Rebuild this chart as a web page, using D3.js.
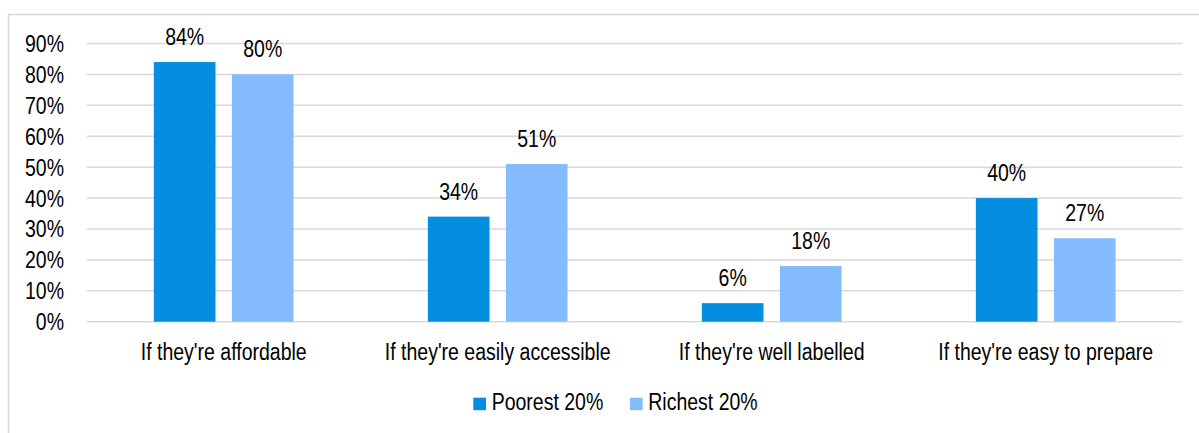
<!DOCTYPE html>
<html><head><meta charset="utf-8">
<script src="https://cdn.jsdelivr.net/npm/d3@7"></script>
<style>body{margin:0;background:#fff}svg{display:block}text{font-family:"Liberation Sans",Arial,sans-serif;fill:#000}</style>
</head><body><svg id="c" width="1199" height="433"></svg>
<script>
const categories = ["If they're affordable","If they're easily accessible","If they're well labelled","If they're easy to prepare"];
const seriesNames = ["Poorest 20%","Richest 20%"];
const poorest = [84,34,6,40];
const richest = [80,51,18,27];
const yTicks = [0,10,20,30,40,50,60,70,80,90];
const colors = ["#038ee2","#84bbfd"];

const svg = d3.select("#c");
const FS = 19.5, SY = 1.23;
function txt(g, x, y, s, anchor){
  return g.append("text").attr("transform",`translate(${x},${y}) scale(1,${SY})`)
    .attr("text-anchor",anchor||"middle").attr("font-size",FS).text(s);
}

svg.append("rect").attr("x",8.5).attr("y",14.5).attr("width",1250).attr("height",500)
  .attr("fill","none").attr("stroke","#d9d9d9").attr("stroke-width",1.5);

const x0 = d3.scaleBand().domain(categories).range([86.7,1182.7]).paddingInner(0).paddingOuter(0);
const y = d3.scaleLinear().domain([0,90]).range([321.7,43.5]);
const x1 = d3.scaleBand().domain(seriesNames).range([0,139.7]).paddingInner(0.21).paddingOuter(0);

const grid = svg.append("g");
yTicks.forEach(t=>{
  grid.append("line").attr("x1",x0.range()[0]).attr("x2",x0.range()[1])
    .attr("y1",y(t)).attr("y2",y(t)).attr("stroke","#d9d9d9").attr("stroke-width",1.5);
  txt(svg, 64, y(t)+8.5, t+"%", "end");
});

const data = [poorest, richest];
categories.forEach((c,i)=>{
  const gx = x0(c) + (x0.bandwidth()-139.7)/2;
  seriesNames.forEach((s,j)=>{
    const v = data[j][i];
    const bx = gx + x1(s);
    svg.append("rect").attr("x",bx).attr("y",y(v)).attr("width",x1.bandwidth())
      .attr("height",y(0)-y(v)).attr("fill",colors[j]);
    txt(svg, bx + x1.bandwidth()/2, y(v)-17, v+"%");
  });
  txt(svg, x0(c)+x0.bandwidth()/2, 360, c);
});

// legend
let lx = 473.3;
seriesNames.forEach((s,j)=>{
  svg.append("rect").attr("x",lx).attr("y",397.7).attr("width",12.7).attr("height",12.5).attr("fill",colors[j]);
  const t = txt(svg, lx+18.4, 410, s, "start");
  const w = t.node().getComputedTextLength();
  lx = lx + 18.4 + w + 26.6;
});
</script></body></html>
